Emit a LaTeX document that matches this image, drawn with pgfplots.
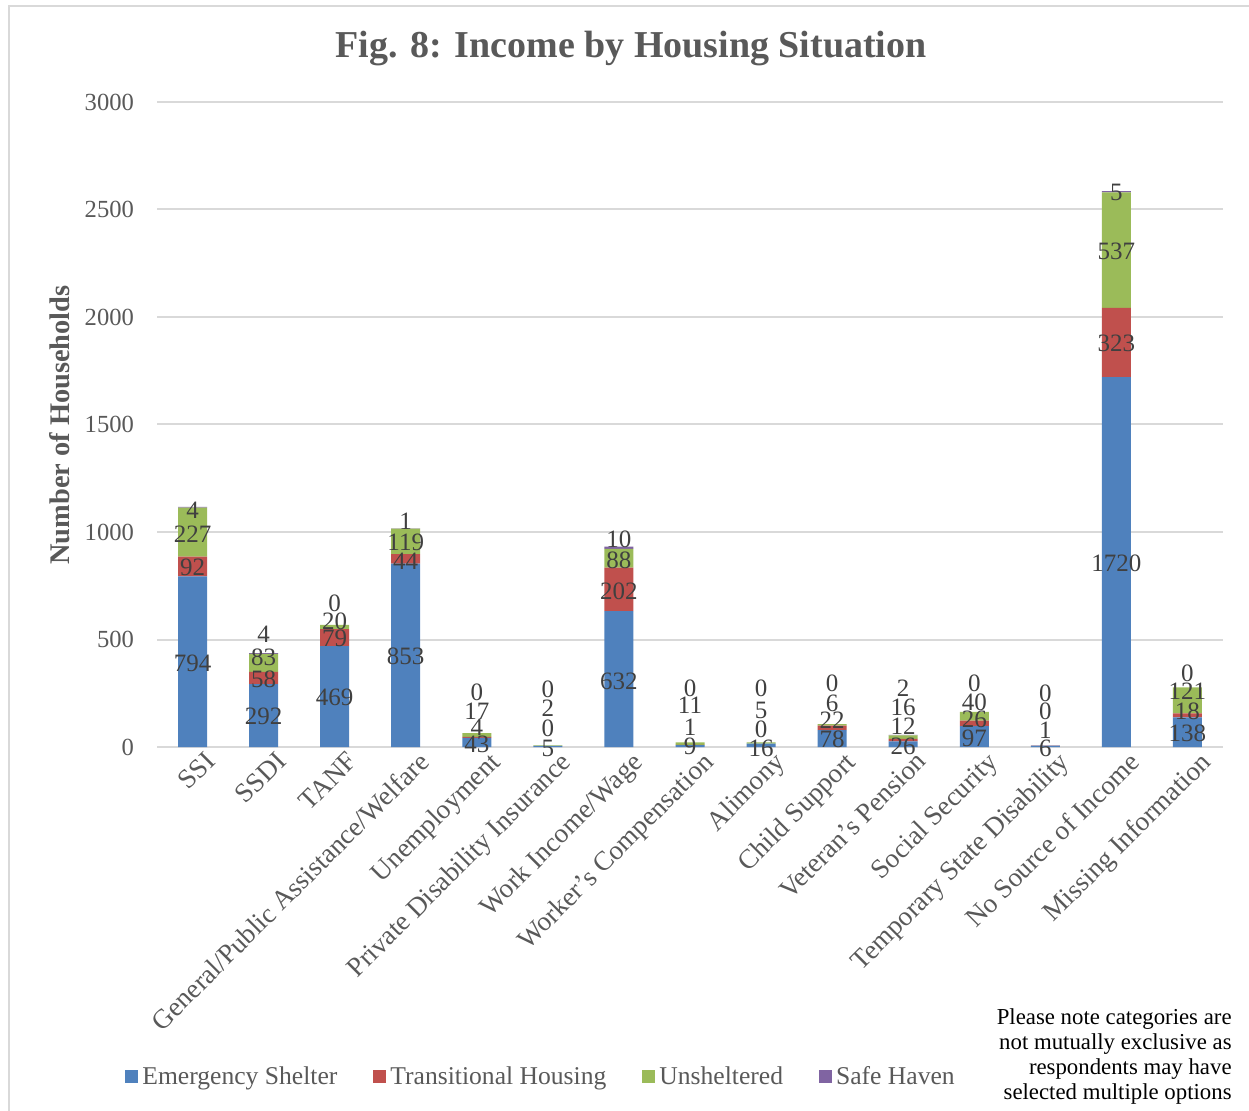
\documentclass[border=0pt]{standalone}
\usepackage{fontspec}
\setmainfont{Liberation Serif}
\usepackage{pgfplots}
\usepackage{pgfplotstable}
\pgfplotsset{compat=1.18}

\definecolor{es}{HTML}{4F81BD}
\definecolor{th}{HTML}{C0504D}
\definecolor{un}{HTML}{9BBB59}
\definecolor{sh}{HTML}{8064A2}
\definecolor{txt}{HTML}{595959}
\definecolor{lbl}{HTML}{404040}
\definecolor{grd}{HTML}{D9D9D9}

% households by income source (x = category index)
\pgfplotstableread{
x es th un sh
0 794 92 227 4
1 292 58 83 4
2 469 79 20 0
3 853 44 119 1
4 43 4 17 0
5 5 0 2 0
6 632 202 88 10
7 9 1 11 0
8 16 0 5 0
9 78 22 6 0
10 26 12 16 2
11 97 26 40 0
12 6 1 0 0
13 1720 323 537 5
14 138 18 121 0
}\income

% data label positions (spread apart where segments are thin)
\pgfplotstableread{
x y v
0 391 794
0 837 92
0 991 227
0 1102 4
1 144 292
1 316 58
1 419 83
1 526 4
2 233 469
2 507 79
2 586 20
2 670 0
3 423 853
3 865 44
3 953 119
3 1051 1
4 14 43
4 93 4
4 167 17
4 256 0
5 -5 5
5 88 0
5 181 2
5 270 0
6 307 632
6 726 202
6 870 88
6 967 10
7 5 9
7 93 1
7 195 11
7 274 0
8 -5 16
8 84 0
8 172 5
8 274 0
9 37 78
9 126 22
9 205 6
9 298 0
10 5 26
10 98 12
10 186 16
10 274 2
11 42 97
11 130 26
11 209 40
11 298 0
12 -5 6
12 79 1
12 167 0
12 251 0
13 856 1720
13 1879 323
13 2307 537
13 2577 5
14 65 138
14 167 18
14 260 121
14 344 0
}\labels

\newcommand\lblfont{\fontsize{12.5pt}{14pt}\selectfont}
\newcommand\tickfont{\fontsize{12.3pt}{14pt}\selectfont}
\newcommand\catfont{\fontsize{13.6pt}{15pt}\selectfont}
\newcommand\legfont{\fontsize{12.8pt}{15pt}\selectfont}

\begin{document}
\begin{tikzpicture}
\draw[grd, line width=1.2pt] (4.5pt,-3pt) rectangle (640pt,-570pt);

\begin{axis}[
  at={(78.5pt,-373.5pt)}, anchor=south west,
  scale only axis, width=533pt, height=322.5pt,
  xmin=-0.5, xmax=14.5, ymin=0, ymax=3000,
  ybar stacked, bar width=14.5pt,
  clip=false,
  axis line style={draw=none},
  major tick length=0pt,
  ymajorgrids, grid style={grd, line width=1pt},
  ytick={0,500,...,3000},
  /pgf/number format/assume math mode=true,
  /pgf/number format/1000 sep={},
  yticklabel style={text=txt, font=\tickfont, xshift=-8pt},
  xtick=data,
  xticklabels={SSI, SSDI, TANF, General/Public Assistance/Welfare, Unemployment,
    Private Disability Insurance, Work Income/Wage, Worker's Compensation, Alimony,
    Child Support, Veteran's Pension, Social Security, Temporary State Disability,
    No Source of Income, Missing Information},
  xticklabel style={text=txt, font=\catfont, rotate=45, anchor=north east,
    inner sep=1pt, xshift=4pt, yshift=-4pt},
  legend style={draw=none, fill=none, at={(-0.03,-0.5116)}, anchor=west,
    legend columns=4, font=\legfont, text=txt, inner sep=0pt,
    /tikz/every even column/.append style={column sep=16pt}},
  legend cell align=left,
  legend image code/.code={\fill[#1] (0pt,-3.25pt) rectangle (6.5pt,3.25pt);},
]
\addplot[fill=es, draw=none] table[x=x, y=es] {\income};
\addplot[fill=th, draw=none] table[x=x, y=th] {\income};
\addplot[fill=un, draw=none] table[x=x, y=un] {\income};
\addplot[fill=sh, draw=none] table[x=x, y=sh] {\income};
\legend{Emergency Shelter, Transitional Housing, Unsheltered, Safe Haven}
\end{axis}

\begin{axis}[
  at={(78.5pt,-373.5pt)}, anchor=south west,
  scale only axis, width=533pt, height=322.5pt,
  xmin=-0.5, xmax=14.5, ymin=0, ymax=3000,
  hide axis, clip=false,
]
\addplot[only marks, mark=none, nodes near coords, point meta=explicit symbolic,
  nodes near coords style={anchor=center, inner sep=0pt, text=lbl, font=\lblfont}]
  table[x=x, y=y, meta=v] {\labels};
\end{axis}

\node[text=txt, font=\fontsize{19pt}{22pt}\selectfont\bfseries] at (315.5pt,-24.5pt)
  {Fig. 8: Income by Housing Situation};
\node[text=txt, font=\fontsize{14.2pt}{16pt}\selectfont\bfseries, rotate=90]
  at (30pt,-212.5pt) {Number of Households};
\node[text=black, align=right, anchor=east, inner sep=0pt,
  font=\fontsize{11.4pt}{12.5pt}\selectfont] at (616pt,-528.5pt)
  {Please note categories are\\not mutually exclusive as\\respondents may have\\selected multiple options};

\pgfresetboundingbox
\path[use as bounding box] (0pt,0pt) rectangle (624.5pt,-555.5pt);
\end{tikzpicture}
\end{document}
